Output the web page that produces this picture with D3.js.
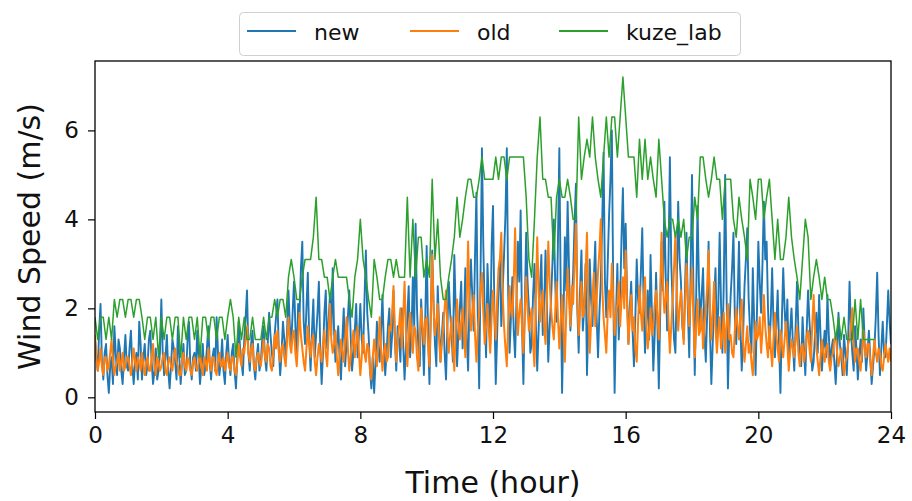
<!DOCTYPE html>
<html>
<head>
<meta charset="utf-8">
<script src="https://cdn.jsdelivr.net/npm/d3@7"></script>
<style>
  html, body { margin: 0; padding: 0; background: #fff; }
  svg { display: block; font-family: "DejaVu Sans", sans-serif; }
</style>
</head>
<body>
<svg id="chart" width="912" height="501"></svg>
<script>
// ---- data ----
const seriesNames = ["new", "old", "kuze_lab"];
const seriesColors = ["#1f77b4", "#ff7f0e", "#2ca02c"];
const seriesWidths = [1.9, 2.0, 1.5];
const stepMinutes = [2.5, 2.5, 5];   // sampling interval of each series
const xTicks = [0, 4, 8, 12, 16, 20, 24];
const yTicks = [0, 2, 4, 6];

// "new" sensor, 2.5-minute samples, one row per hour
const newValues = [
  1.3,0.9,0.6,1.5,2.1,0.8,0.4,1.0,1.2,0.5,0.1,0.7,0.9,0.3,1.6,1.0,0.5,1.3,1.1,0.6,0.3,0.9,1.4,0.7,
  0.6,1.1,1.5,0.7,0.3,0.8,1.0,0.4,1.7,1.2,0.4,0.9,1.2,0.5,0.7,1.3,1.5,0.8,0.3,0.6,1.1,0.4,0.6,1.0,
  2.2,1.0,0.5,0.9,1.4,0.6,0.2,0.7,1.3,1.1,0.8,0.4,1.6,0.9,0.3,0.8,1.2,0.5,0.6,1.3,1.7,0.7,0.4,0.9,
  1.0,0.6,1.5,0.9,0.3,0.7,1.2,0.5,0.7,1.1,1.6,0.8,0.4,0.9,1.1,0.6,1.8,1.0,0.5,0.8,1.3,0.6,0.3,1.0,
  1.4,0.8,0.5,1.0,1.2,0.6,0.2,0.9,1.7,1.1,0.8,0.5,1.3,1.8,2.4,1.0,0.6,1.2,1.5,0.7,0.4,0.9,1.2,0.6,
  0.8,1.3,1.6,0.9,0.6,1.2,1.9,1.4,1.0,0.7,1.4,1.8,2.2,1.1,0.5,1.0,1.7,1.3,0.9,1.5,2.4,1.6,1.2,1.9,
  2.6,1.6,0.9,2.1,1.8,2.9,3.5,1.7,1.2,2.0,2.8,1.3,0.6,1.5,2.2,0.9,1.4,1.9,2.6,1.1,0.3,1.0,1.9,2.4,
  1.1,1.7,2.3,1.4,2.9,1.5,0.8,1.2,1.6,0.9,0.4,1.3,2.0,0.7,1.2,1.8,2.4,1.4,0.6,1.0,1.5,2.1,0.9,1.4,
  2.1,1.3,1.0,2.2,3.3,1.9,1.4,0.6,0.2,0.9,0.1,0.8,1.7,1.1,0.8,1.5,2.3,1.2,0.5,1.0,1.6,2.0,0.9,1.4,
  2.4,1.3,0.6,1.6,1.3,0.8,2.0,1.2,0.4,1.1,1.8,2.5,0.9,1.4,2.7,1.6,3.9,2.0,1.1,0.7,2.2,1.5,0.5,1.8,
  3.4,1.5,0.3,1.9,3.3,2.1,1.2,0.7,2.5,1.6,0.8,1.4,1.9,1.0,0.4,1.6,2.6,1.9,1.4,0.8,3.2,2.0,0.7,1.5,
  2.0,2.6,1.1,1.7,2.9,1.3,0.6,2.2,3.1,2.3,1.5,3.2,4.6,1.7,0.2,2.8,5.6,3.4,1.9,0.9,3.0,2.1,1.2,3.4,
  4.3,2.0,0.3,1.4,2.5,3.1,1.6,2.4,3.2,4.1,5.6,2.3,1.0,1.8,2.7,1.5,0.9,2.2,3.5,2.6,4.2,1.6,0.3,2.0,
  3.7,2.6,2.0,1.0,1.2,2.3,3.0,1.7,0.6,1.5,2.5,3.2,1.4,2.0,3.3,2.1,0.8,1.6,2.2,3.0,4.0,2.6,1.7,3.5,
  5.6,2.4,0.1,1.8,3.6,2.4,4.4,2.9,1.5,2.1,2.8,3.9,4.8,2.0,1.0,2.4,3.3,1.5,2.0,3.0,0.5,1.7,3.1,2.2,
  1.6,2.7,3.5,1.8,0.9,1.9,2.6,3.9,5.5,2.6,1.8,3.0,4.1,4.9,6.0,2.4,0.1,1.8,3.0,1.3,2.2,3.6,4.7,2.9,
  3.9,2.3,1.2,2.0,2.6,1.5,0.7,1.8,3.1,2.2,1.9,2.8,3.8,2.1,1.0,1.7,2.4,1.3,3.2,1.9,0.6,1.4,2.8,1.6,
  0.2,1.9,3.5,2.4,4.4,2.7,1.5,3.1,5.4,3.0,2.1,1.3,1.0,2.6,4.4,3.1,2.6,1.6,1.3,2.5,3.7,2.0,0.9,2.8,
  5.0,2.5,0.5,2.2,4.3,2.6,1.6,2.3,2.9,1.4,0.8,1.9,3.5,1.5,0.3,1.2,2.2,2.9,1.3,2.0,3.7,2.1,1.0,2.6,
  5.0,2.4,0.2,1.5,2.3,2.9,3.7,1.8,1.2,2.2,3.5,1.6,0.6,1.4,2.5,3.1,3.8,2.2,1.5,1.0,2.9,1.7,0.5,1.9,
  3.5,2.6,1.9,3.0,4.4,3.1,3.5,2.0,1.1,1.8,2.9,1.6,0.9,1.6,2.4,1.2,0.1,1.7,2.9,2.0,1.4,2.2,0.8,1.5,
  2.0,1.2,0.6,1.6,2.6,1.5,1.0,0.7,1.8,1.1,0.5,1.5,2.4,1.7,1.2,0.6,0.8,1.4,1.9,1.0,2.3,1.4,0.6,1.1,
  1.5,0.9,2.3,1.4,0.7,1.1,1.3,0.8,0.3,1.0,1.9,1.2,0.9,0.5,1.4,1.0,0.5,1.3,2.6,1.5,1.0,0.6,1.6,1.1,
  0.4,0.9,1.3,0.8,2.0,1.2,0.6,1.0,1.5,0.9,0.3,0.7,1.1,1.8,2.8,1.4,0.5,1.1,1.7,1.0,0.9,1.6,2.4,1.7,
  1.2
];

// "old" sensor, 2.5-minute samples, one row per hour
const oldValues = [
  1.4,0.9,0.6,0.8,1.1,0.7,0.5,0.9,0.9,0.6,0.7,1.0,1.3,0.8,0.5,0.7,0.8,1.0,0.6,0.8,1.0,0.6,0.7,0.9,
  0.9,0.7,0.5,0.8,1.1,0.8,0.6,0.9,0.8,0.6,1.0,0.7,0.5,0.8,0.9,0.6,0.6,0.9,1.2,0.7,0.5,0.9,0.8,0.6,
  0.7,0.9,1.0,0.6,0.5,0.8,0.9,0.7,0.6,0.9,1.1,0.8,0.7,0.5,0.5,0.8,1.0,0.7,0.6,0.9,0.8,0.6,0.5,0.8,
  0.9,0.7,0.6,0.8,1.0,0.7,0.5,0.9,0.8,0.6,1.1,0.8,0.6,0.9,0.9,0.6,0.5,0.8,1.0,0.7,0.7,0.9,0.6,0.8,
  1.0,0.7,0.6,0.9,0.9,0.6,0.5,0.8,1.2,0.9,0.7,1.1,1.0,1.3,1.6,1.0,0.8,1.1,1.2,0.7,0.6,0.9,1.0,0.8,
  0.7,1.0,1.3,0.9,0.8,1.2,1.1,0.7,0.6,1.0,1.4,1.1,1.5,1.0,0.8,1.1,1.2,0.9,0.7,1.3,1.8,1.2,1.0,1.4,
  1.5,1.0,0.7,1.3,1.9,1.4,1.1,0.8,0.6,1.1,1.6,1.2,0.9,1.3,1.4,0.8,0.5,0.9,1.2,1.0,0.8,1.2,1.5,1.0,
  0.7,1.4,2.1,1.3,1.0,1.2,1.5,0.9,0.5,0.9,1.3,1.0,0.8,1.3,1.8,1.1,0.6,0.9,1.2,1.5,0.9,1.2,1.6,1.0,
  0.5,0.9,1.4,1.0,0.8,1.2,1.1,0.6,0.4,0.9,1.3,1.0,0.7,1.2,1.8,1.1,0.6,1.0,1.2,0.8,0.9,1.6,1.5,1.9,
  2.5,1.4,0.8,1.2,1.6,2.0,1.1,1.8,2.6,1.5,0.7,1.3,1.9,1.4,1.0,1.6,1.5,0.9,0.6,1.3,2.0,1.6,1.2,1.7,
  1.8,1.2,0.7,1.9,3.2,2.0,1.4,1.7,2.1,1.3,0.8,1.2,1.6,2.0,2.4,1.5,1.0,1.4,1.8,1.1,0.6,1.5,2.2,1.6,
  1.3,1.7,2.0,1.4,0.9,2.2,3.5,2.1,1.5,1.9,2.3,1.4,0.8,1.5,1.9,2.4,2.8,1.9,1.2,1.6,2.1,1.5,1.0,1.8,
  2.4,1.8,1.3,2.2,2.9,3.1,3.7,2.3,1.6,1.1,0.7,1.7,2.5,2.0,1.8,2.6,3.8,2.4,1.4,1.9,2.2,1.6,1.0,1.9,
  2.7,2.0,1.5,1.8,2.0,1.2,0.7,2.2,3.6,2.4,1.7,2.1,2.4,1.6,1.2,2.3,3.5,2.6,2.0,1.6,1.3,1.9,2.6,1.8,
  1.1,1.7,2.3,1.5,0.8,1.9,2.9,2.2,1.6,2.5,2.1,3.0,3.9,2.2,1.4,2.0,2.6,1.8,1.9,2.8,3.7,2.0,1.0,1.7,
  2.2,2.8,1.6,2.2,2.8,3.3,4.0,2.5,1.8,1.4,1.0,1.9,2.4,1.8,3.0,2.2,1.4,1.9,2.1,2.6,1.6,2.2,2.7,2.0,
  3.3,2.1,1.2,1.8,2.3,1.5,1.8,1.1,0.8,1.7,2.5,1.9,1.5,2.2,2.7,1.6,1.1,1.5,2.0,1.4,1.6,2.1,2.4,1.8,
  1.3,2.4,3.7,2.6,1.9,2.2,2.6,1.7,1.0,1.6,2.2,2.9,3.7,2.3,1.5,2.0,2.4,1.8,1.2,2.1,3.0,2.2,1.6,2.3,
  2.9,1.8,0.9,1.6,2.2,1.4,1.5,2.0,1.1,1.6,2.0,2.5,3.3,2.0,1.3,1.9,2.6,1.6,1.0,1.5,1.8,1.1,1.4,1.9,
  1.0,1.6,2.1,1.3,1.4,1.0,0.9,1.5,2.0,1.6,1.3,1.8,2.2,1.2,0.8,1.2,1.6,1.0,1.2,0.8,0.5,1.1,1.7,1.3,
  1.4,1.8,1.0,1.5,2.3,1.6,1.2,0.9,1.6,1.1,0.7,1.3,1.9,1.4,1.1,0.8,1.5,1.2,0.9,1.3,1.7,1.2,0.6,1.0,
  1.3,1.1,0.9,1.3,1.6,1.0,0.7,1.1,1.2,0.8,1.0,1.4,1.5,1.1,0.8,1.6,2.3,1.5,1.1,0.8,0.5,0.9,1.3,1.0,
  0.8,1.1,1.2,0.8,0.6,0.9,1.0,1.3,1.4,1.0,0.7,0.9,1.1,0.8,0.5,0.8,0.9,1.2,1.3,1.6,2.0,1.2,0.8,1.1,
  1.1,0.8,0.6,1.0,1.5,1.1,0.9,1.2,1.2,0.8,0.5,0.9,1.3,1.0,0.8,1.1,1.0,0.7,0.6,0.9,1.2,1.0,0.8,1.1,
  0.8
];

// kuze_lab station, 5-minute samples, one row per hour (ends at 23:30)
const kuzeValues = [
  1.8,1.3,1.8,1.8,1.3,1.8,1.3,2.2,1.8,2.2,2.2,1.8,
  2.2,2.2,1.8,2.2,2.2,1.8,1.3,1.8,1.8,1.3,1.8,0.9,
  1.8,1.3,1.8,1.8,1.3,1.8,1.8,0.9,1.8,1.3,1.8,1.8,
  1.3,1.8,0.9,1.8,1.8,1.3,1.8,1.8,1.3,1.8,1.8,1.3,
  1.8,2.2,1.8,0.9,1.8,1.3,1.8,1.3,1.3,1.8,1.3,1.3,
  1.3,1.8,1.3,1.8,1.8,2.2,1.8,2.2,2.2,1.8,2.7,3.1,
  2.7,2.2,2.2,2.7,3.1,3.1,3.1,3.6,4.5,3.1,3.1,2.7,
  2.7,2.2,2.7,3.1,2.7,2.7,2.7,2.7,2.2,1.8,2.7,3.1,
  4.0,3.1,2.7,2.2,1.8,3.1,2.7,2.2,2.2,2.7,3.1,3.1,
  2.7,3.1,2.7,2.7,2.7,4.5,2.7,4.0,2.7,3.6,3.6,2.7,
  3.1,2.7,4.9,3.1,4.0,2.7,2.2,2.2,2.7,3.1,3.6,4.5,
  3.6,4.0,4.5,4.9,4.9,4.5,4.5,4.9,5.4,4.9,4.9,4.9,
  4.9,5.4,4.9,5.4,5.4,4.9,5.4,5.4,5.4,5.4,5.4,5.4,
  4.5,3.1,2.7,4.0,5.4,6.3,4.9,4.9,4.5,4.5,3.1,4.5,
  4.9,4.5,4.5,4.9,4.5,4.0,4.0,6.3,4.9,5.4,5.8,5.4,
  6.3,5.4,4.9,4.5,5.4,6.3,5.4,6.3,6.3,5.4,6.3,7.2,
  6.3,5.4,5.4,5.4,4.5,5.8,4.9,5.8,4.9,5.4,4.9,4.5,
  5.8,4.9,4.0,3.6,4.0,4.0,3.6,4.0,3.6,4.0,3.1,3.6,
  3.6,4.5,4.0,5.4,5.4,4.9,4.5,4.9,5.4,4.9,4.9,4.0,
  4.9,4.9,4.9,4.0,3.6,4.5,4.0,3.6,3.1,4.9,4.5,4.0,
  4.9,4.9,4.0,4.5,4.9,4.0,3.1,4.0,3.1,3.1,3.6,4.5,
  3.6,3.1,2.7,2.2,3.1,4.0,3.6,2.2,2.7,3.1,2.7,2.2,
  2.7,2.2,2.2,1.8,1.3,1.8,1.3,1.8,1.3,1.3,1.3,2.2,
  1.3,2.2,1.3,1.3,1.3,1.3,1.3
];

const allSeries = [newValues, oldValues, kuzeValues];

// ---- layout ----
const M = { left: 95, right: 891, top: 61, bottom: 412 };

const svg = d3.select("#chart");

const x = d3.scaleLinear().domain([0, 24]).range([M.left, M.right]);
const y = d3.scaleLinear().domain([-0.33, 7.56]).range([M.bottom, M.top]);

svg.append("defs").append("clipPath").attr("id", "plotclip")
  .append("rect")
  .attr("x", M.left).attr("y", M.top)
  .attr("width", M.right - M.left).attr("height", M.bottom - M.top);

const g = svg.append("g").attr("clip-path", "url(#plotclip)");
allSeries.forEach((vals, k) => {
  const line = d3.line()
    .x((d, i) => x(i * stepMinutes[k] / 60))
    .y(d => y(d));
  g.append("path")
    .datum(vals)
    .attr("fill", "none")
    .attr("stroke", seriesColors[k])
    .attr("stroke-width", seriesWidths[k])
    .attr("stroke-linejoin", "round")
    .attr("d", line);
});

// frame
svg.append("rect")
  .attr("x", M.left).attr("y", M.top)
  .attr("width", M.right - M.left).attr("height", M.bottom - M.top)
  .attr("fill", "none").attr("stroke", "#000").attr("stroke-width", 1.3);

// axes
const xAxis = svg.append("g")
  .attr("transform", `translate(0,${M.bottom})`)
  .call(d3.axisBottom(x).tickValues(xTicks).tickSize(7).tickPadding(8).tickFormat(d3.format("d")));
const yAxis = svg.append("g")
  .attr("transform", `translate(${M.left},0)`)
  .call(d3.axisLeft(y).tickValues(yTicks).tickSize(7).tickPadding(9).tickFormat(d3.format("d")));

[xAxis, yAxis].forEach(a => {
  a.select(".domain").remove();
  a.selectAll(".tick line").attr("stroke", "#000").attr("stroke-width", 1.2);
  a.selectAll(".tick text").attr("fill", "#111")
    .style("font-family", "'DejaVu Sans', sans-serif")
    .style("font-size", "23px");
});

// axis labels
svg.append("text")
  .attr("x", (M.left + M.right) / 2).attr("y", 493)
  .attr("text-anchor", "middle")
  .style("font-size", "30px").attr("fill", "#111")
  .text("Time (hour)");
svg.append("text")
  .attr("transform", `translate(40,${(M.top + M.bottom) / 2}) rotate(-90)`)
  .attr("text-anchor", "middle")
  .style("font-size", "30px").attr("fill", "#111")
  .text("Wind Speed (m/s)");

// legend
const leg = svg.append("g");
leg.append("rect")
  .attr("x", 239.5).attr("y", 12.5).attr("width", 501).attr("height", 43)
  .attr("rx", 4).attr("ry", 4)
  .attr("fill", "#fff").attr("fill-opacity", 0.8)
  .attr("stroke", "#d0d0d0").attr("stroke-width", 1);
const legX = [247, 410, 559];
seriesNames.forEach((name, k) => {
  leg.append("line")
    .attr("x1", legX[k]).attr("x2", legX[k] + 49)
    .attr("y1", 31).attr("y2", 31)
    .attr("stroke", seriesColors[k]).attr("stroke-width", 2);
  leg.append("text")
    .attr("x", legX[k] + 67).attr("y", 40)
    .style("font-size", "22px").attr("fill", "#111")
    .text(name);
});
</script>
</body>
</html>
